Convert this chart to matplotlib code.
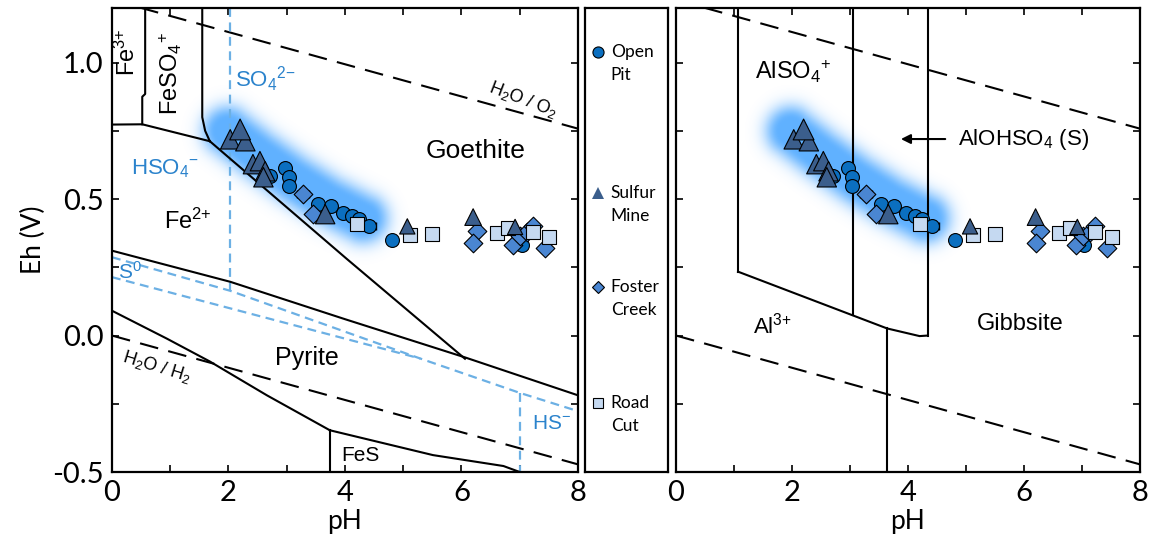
import numpy as np
import matplotlib
matplotlib.use("Agg")
import matplotlib.pyplot as plt

plt.rcParams['font.family'] = ['Liberation Sans', 'DejaVu Sans']
plt.rcParams['mathtext.fontset'] = 'custom'
plt.rcParams['mathtext.rm'] = 'Liberation Sans'
plt.rcParams['mathtext.it'] = 'Liberation Sans:italic'

# ---- sample data (pH, Eh in V) ----
open_pit_ph = [2.71, 2.97, 3.04, 3.04, 3.54, 3.76, 3.97, 4.12, 4.24, 4.42, 4.81, 7.04]
open_pit_eh = [0.584, 0.613, 0.58, 0.548, 0.482, 0.475, 0.449, 0.438, 0.427, 0.40, 0.35, 0.33]
open_pit_xerr = [0, 0, 0, 0, 0, 0, 0, 0, 0, 0.12, 0, 0]

sulfur_mine_ph = [2.03, 2.29, 2.20, 2.42, 2.54, 2.63, 2.60, 3.66, 5.07, 6.20, 6.92]
sulfur_mine_eh = [0.719, 0.712, 0.755, 0.628, 0.639, 0.602, 0.58, 0.445, 0.40, 0.434, 0.398]
sulfur_mine_size = [14, 14, 15, 14, 14, 14, 14, 14, 11, 12, 11]

foster_ph = [3.28, 3.45, 6.27, 6.20, 6.89, 7.01, 7.13, 7.22, 7.44]
foster_eh = [0.518, 0.445, 0.383, 0.34, 0.33, 0.365, 0.38, 0.40, 0.32]
foster_xerr = [0.1, 0, 0, 0, 0, 0, 0, 0, 0]

road_ph = [4.21, 5.12, 5.50, 6.61, 6.80, 7.23, 7.51]
road_eh = [0.409, 0.369, 0.372, 0.376, 0.394, 0.38, 0.361]

# trend band behind the acidic samples
trend_ph = [1.98, 2.5, 3.1, 3.7, 4.3]
trend_eh = [0.75, 0.665, 0.575, 0.495, 0.43]

# ---- Fe-S-H2O boundaries ----
fe3_feso4 = ([0.57, 0.57, 0.52, 0.52], [1.2, 0.885, 0.875, 0.774])
fe2_top = ([0, 0.52, 1.68], [0.773, 0.774, 0.712])
feso4_goethite = ([1.55, 1.55, 1.6, 1.68], [1.2, 0.80, 0.75, 0.712])
fe2_goethite = ([1.68, 4.03, 6.06], [0.712, 0.281, -0.085])
pyrite_top = ([0, 2.03, 4.0, 6.06, 8], [0.311, 0.197, 0.06, -0.08, -0.219])
pyrite_bottom = ([0, 0.94, 1.68, 2.66, 3.74], [0.091, -0.011, -0.095, -0.219, -0.347])
pyrite_fes = ([3.74, 5.51, 6.72, 7.0], [-0.347, -0.438, -0.478, -0.5])
fes_vertical = ([3.74, 3.74], [-0.347, -0.5])

so4_hso4 = ([2.03, 2.03], [1.2, 0.164])
s0_top = ([0, 2.03, 5.29, 7.0, 8], [0.287, 0.164, -0.084, -0.21, -0.277])
s0_bottom = ([0, 5.29], [0.214, -0.084])
h2s_hs = ([7.0, 7.0], [-0.21, -0.5])

# ---- Al-S-H2O boundaries ----
al_left = ([1.07, 1.07], [1.2, 0.234])
al_slope = ([1.07, 3.64, 4.2, 4.34], [0.234, 0.026, -0.002, 0.0])
al_mid = ([3.05, 3.05], [1.2, 0.074])
al_right = ([4.34, 4.34], [1.2, 0.0])
gibbsite_vertical = ([3.64, 3.64], [0.026, -0.5])

water_ph = np.array([0, 8])
h2o_o2 = 1.23 - 0.059 * water_ph
h2o_h2 = -0.059 * water_ph

c_open = '#0b6fc0'
c_sulfur = '#3b5e8c'
c_foster = '#4a86d2'
c_road = '#c5d9f1'
c_sblue = '#6cb0e4'
c_text = '#2b83cc'

fig = plt.figure(figsize=(11.53, 5.46), dpi=100)
ax1 = fig.add_axes([0.0971, 0.1355, 0.4042, 0.8498])
axl = fig.add_axes([0.5074, 0.1355, 0.0720, 0.8498])
ax2 = fig.add_axes([0.5863, 0.1355, 0.4024, 0.8498])


def glow(ax):
    ph = np.linspace(0, 8, 500)
    eh = np.linspace(-0.5, 1.2, 500)
    P, E = np.meshgrid(ph, eh)
    sx, sy = 58.2, 273.0
    px, py = P * sx, E * sy
    d = np.full(P.shape, np.inf)
    for i in range(len(trend_ph) - 1):
        ax_, ay_ = trend_ph[i] * sx, trend_eh[i] * sy
        bx_, by_ = trend_ph[i + 1] * sx, trend_eh[i + 1] * sy
        vx, vy = bx_ - ax_, by_ - ay_
        t = ((px - ax_) * vx + (py - ay_) * vy) / (vx * vx + vy * vy)
        t = np.clip(t, 0, 1)
        dd = np.hypot(px - (ax_ + t * vx), py - (ay_ + t * vy))
        d = np.minimum(d, dd)
    a = np.exp(-(np.clip(d - 12, 0, None) / 15.0) ** 2) * 0.82
    img = np.zeros(P.shape + (4,))
    img[..., 0], img[..., 1], img[..., 2] = 0.24, 0.63, 1.0
    img[..., 3] = a
    ax.imshow(img, extent=[0, 8, -0.5, 1.2], origin='lower', aspect='auto',
              interpolation='bilinear', zorder=1)


def samples(ax):
    ax.errorbar(open_pit_ph, open_pit_eh, xerr=open_pit_xerr, fmt='none',
                ecolor='black', elinewidth=1, capsize=3, zorder=4)
    ax.errorbar(foster_ph, foster_eh, xerr=foster_xerr, fmt='none',
                ecolor='black', elinewidth=1, capsize=3, zorder=4)
    ax.scatter(open_pit_ph, open_pit_eh, s=10 ** 2, marker='o', c=c_open,
               edgecolors='black', linewidths=0.8, zorder=5)
    ax.scatter(foster_ph, foster_eh, s=9.5 ** 2, marker='D', c=c_foster,
               edgecolors='black', linewidths=0.8, zorder=6)
    ax.scatter(road_ph, road_eh, s=10 ** 2, marker='s', c=c_road,
               edgecolors='black', linewidths=0.8, zorder=6)
    ax.scatter(sulfur_mine_ph, sulfur_mine_eh, s=np.array(sulfur_mine_size) ** 2,
               marker='^', c=c_sulfur, edgecolors='black', linewidths=0.8, zorder=7)


def frame(ax, ylabels=True):
    ax.set_xlim(0, 8)
    ax.set_ylim(-0.5, 1.2)
    ax.set_xticks([0, 2, 4, 6, 8])
    ax.set_xticks([1, 3, 5, 7], minor=True)
    ax.set_yticks([-0.5, 0.0, 0.5, 1.0])
    ax.set_yticks([-0.25, 0.25, 0.75], minor=True)
    ax.set_yticklabels(['-0.5', '0.0', '0.5', '1.0'] if ylabels else [])
    ax.tick_params(which='both', direction='in', top=True, right=True,
                   length=5, width=1.2)
    ax.tick_params(labelsize=21, pad=6)
    for lab in ax.get_xticklabels() + ax.get_yticklabels():
        lab.set_family('Lato')
    ax.set_xlabel('pH', fontsize=19, family='Lato', labelpad=2)
    for sp in ax.spines.values():
        sp.set_linewidth(1.6)
    ax.plot(water_ph, h2o_o2, color='black', lw=1.5, ls=(0, (9, 5)), zorder=2)
    ax.plot(water_ph, h2o_h2, color='black', lw=1.5, ls=(0, (9, 5)), zorder=2)


# ---- Fe panel ----
glow(ax1)
frame(ax1)
ax1.set_ylabel('Eh (V)', fontsize=19, family='Lato', labelpad=4)
for ph, eh in [fe3_feso4, fe2_top, feso4_goethite, fe2_goethite, pyrite_top,
               pyrite_bottom, pyrite_fes, fes_vertical]:
    ax1.plot(ph, eh, color='black', lw=1.5, zorder=3)
for ph, eh in [so4_hso4, s0_top, s0_bottom, h2s_hs]:
    ax1.plot(ph, eh, color=c_sblue, lw=1.6, ls=(0, (4, 2.5)), zorder=2)
samples(ax1)

ax1.text(0.27, 1.04, r'Fe$^{3{+}}$', fontsize=17, rotation=90, ha='center', va='center')
ax1.text(1.0, 0.96, r'FeSO$_4$$^{{+}}$', fontsize=17, rotation=90, ha='center', va='center')
ax1.text(2.63, 0.938, r'SO$_4$$^{2{-}}$', fontsize=16, color=c_text, ha='center', va='center')
ax1.text(7.06, 0.865, r'H$_2$O / O$_2$', fontsize=13, rotation=-21, ha='center', va='center')
ax1.text(6.25, 0.675, 'Goethite', fontsize=19, ha='center', va='center')
ax1.text(0.91, 0.61, r'HSO$_4$$^{{-}}$', fontsize=16, color=c_text, ha='center', va='center')
ax1.text(1.3, 0.42, r'Fe$^{2{+}}$', fontsize=17, ha='center', va='center')
ax1.text(0.31, 0.233, r'S$^0$', fontsize=15, color=c_text, ha='center', va='center')
ax1.text(3.35, -0.084, 'Pyrite', fontsize=18, ha='center', va='center')
ax1.text(0.77, -0.113, r'H$_2$O / H$_2$', fontsize=13, rotation=-17, ha='center', va='center')
ax1.text(7.55, -0.321, r'HS$^{{-}}$', fontsize=15, color=c_text, ha='center', va='center')
ax1.text(4.26, -0.438, 'FeS', fontsize=15, ha='center', va='center')

# ---- Al panel ----
glow(ax2)
frame(ax2, ylabels=False)
for ph, eh in [al_left, al_slope, al_mid, al_right, gibbsite_vertical]:
    ax2.plot(ph, eh, color='black', lw=1.5, zorder=3)
samples(ax2)
ax2.text(2.02, 0.967, r'AlSO$_4$$^{{+}}$', fontsize=17, ha='center', va='center')
ax2.text(4.86, 0.72, r'AlOHSO$_4$ (S)', fontsize=16, ha='left', va='center')
ax2.annotate('', xy=(3.83, 0.72), xytext=(4.69, 0.72),
             arrowprops=dict(arrowstyle='-|>', color='black', lw=1.5,
                             mutation_scale=14))
ax2.text(1.67, 0.036, r'Al$^{3{+}}$', fontsize=16, ha='center', va='center')
ax2.text(5.93, 0.044, 'Gibbsite', fontsize=17, ha='center', va='center')

# ---- legend panel ----
axl.set_xlim(0, 1)
axl.set_ylim(0, 1)
axl.set_xticks([])
axl.set_yticks([])
for sp in axl.spines.values():
    sp.set_linewidth(1.6)
legend_items = [
    ('o', c_open, 'Open', 'Pit', 0.905, 8),
    ('^', c_sulfur, 'Sulfur', 'Mine', 0.601, 8),
    ('D', c_foster, 'Foster', 'Creek', 0.399, 6.5),
    ('s', c_road, 'Road', 'Cut', 0.149, 7.5),
]
for mk, col, l1, l2, y, ms in legend_items:
    axl.plot([0.16], [y], marker=mk, color=col, markeredgecolor='black',
             markeredgewidth=0.8 if mk != '^' else 0, ms=ms, ls='none')
    axl.text(0.31, y, l1, fontsize=12.5, family='Lato', va='center', ha='left')
    axl.text(0.31, y - 0.05, l2, fontsize=12.5, family='Lato', va='center', ha='left')

fig.savefig('out.png', dpi=100)
